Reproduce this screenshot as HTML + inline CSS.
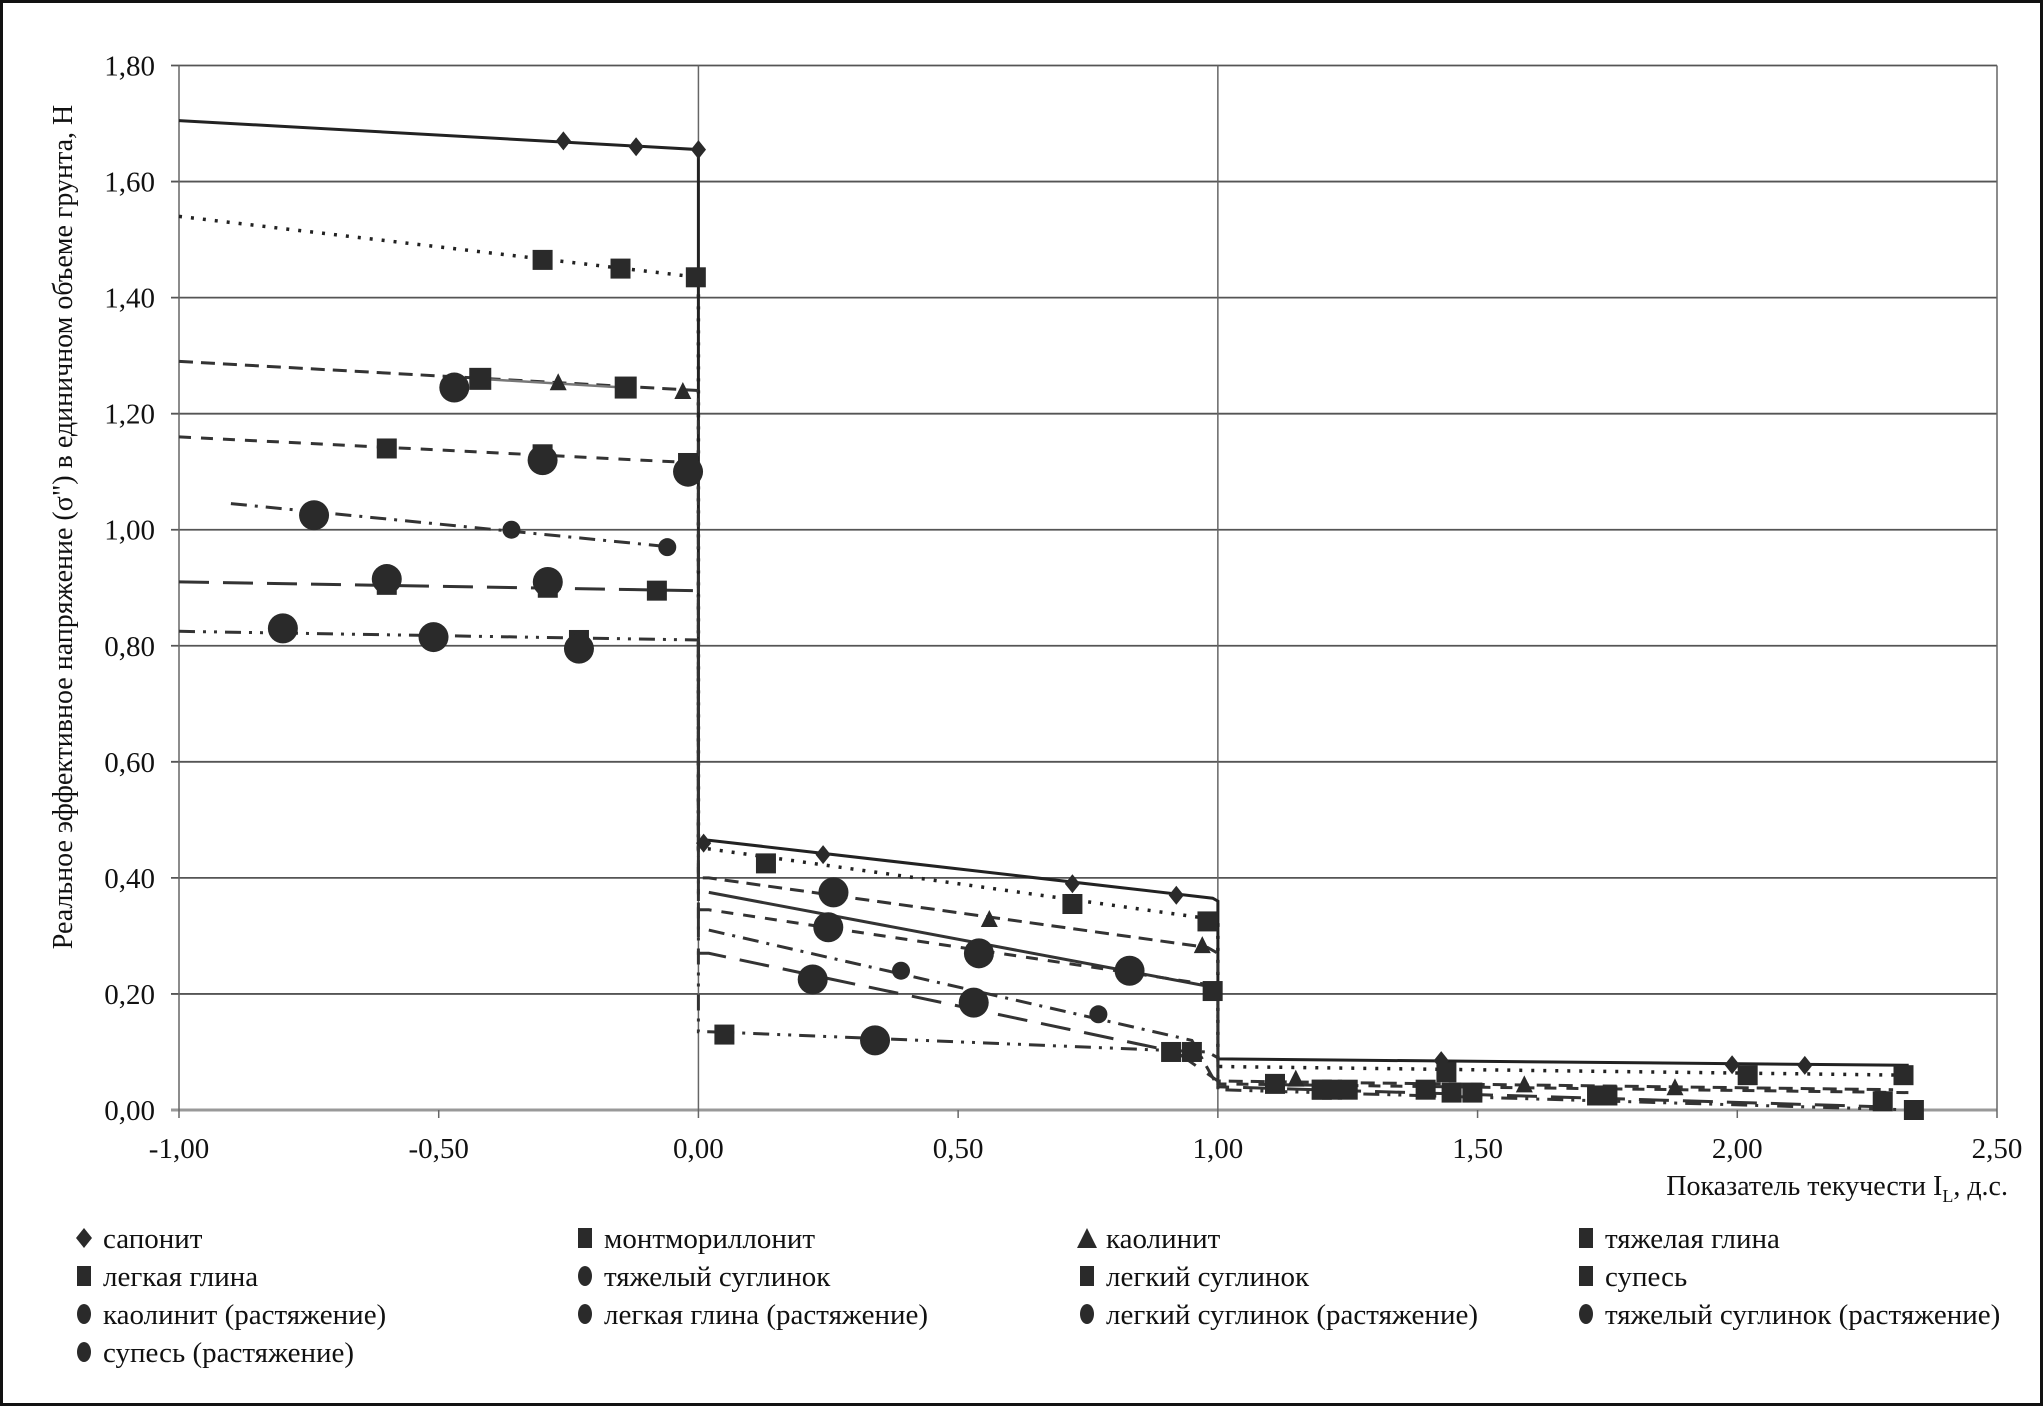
<!DOCTYPE html>
<html><head><meta charset="utf-8">
<style>
html,body{margin:0;padding:0;background:#fff;}
#wrap{position:relative;width:2043px;height:1406px;box-sizing:border-box;border:3px solid #111;overflow:hidden;font-family:"Liberation Serif","DejaVu Serif",serif;color:#111;}
svg{position:absolute;left:0;top:0;}
svg text{font-family:"Liberation Serif","DejaVu Serif",serif;}
</style></head>
<body>
<div id="wrap">
<svg id="chart" width="2043" height="1406" viewBox="0 0 2043 1406"></svg>
</div>
<script>
const xTicks=[-1,-0.5,0,0.5,1,1.5,2,2.5];
const xTickLabels=["-1,00","-0,50","0,00","0,50","1,00","1,50","2,00","2,50"];
const yTicks=[0,0.2,0.4,0.6,0.8,1.0,1.2,1.4,1.6,1.8];
const yTickLabels=["0,00","0,20","0,40","0,60","0,80","1,00","1,20","1,40","1,60","1,80"];
const seriesNames=["сапонит","монтмориллонит","каолинит","тяжелая глина","легкая глина","тяжелый суглинок","легкий суглинок","супесь","каолинит (растяжение)","легкая глина (растяжение)","легкий суглинок (растяжение)","тяжелый суглинок (растяжение)","супесь (растяжение)"];
const seriesMarkers=["diamond","square","triangle","square","square","circle","square","square","circle","circle","circle","circle","circle"];
const lineX=[
 [-1,0,0,0.02,0.99,1.0,1.0,2.33],
 [-1,0,0,0.02,0.98,1.0,1.0,2.33],
 [-1,0,0,0.02,0.98,1.0,1.0,2.3],
 [-0.42,-0.14],
 [-1,0,0,0.02,0.99,1.0,1.0,2.33],
 [-0.9,-0.05],
 [-1,0,0,0.02,0.92,1.0,1.0,2.3],
 [-1,0,0,0.02,0.98,1.0,1.0,2.34],
 [0.02,1.0],
 [0.02,0.95,1.0]
];
const lineY=[
 [1.705,1.655,0.465,0.465,0.365,0.36,0.088,0.077],
 [1.54,1.435,0.45,0.45,0.33,0.32,0.075,0.06],
 [1.29,1.24,0.40,0.40,0.28,0.27,0.05,0.035],
 [1.26,1.245],
 [1.16,1.115,0.345,0.345,0.215,0.205,0.045,0.03],
 [1.045,0.97],
 [0.91,0.895,0.27,0.27,0.10,0.05,0.04,0.005],
 [0.825,0.81,0.135,0.135,0.10,0.09,0.035,0.0],
 [0.375,0.21],
 [0.31,0.12,0.04]
];
const lineDash=["","3 9","14 8","","12 10","16 8 3 8","30 14","16 8 3 8 3 8","","16 8 3 8"];
const lineW=[3,3.5,3,2.5,3,3,3,3,3,3];
const lineColor=["#222","#222","#333","#777","#333","#333","#333","#333","#333","#333"];
const markX=[
 [-0.26,-0.12,0,0.01,0.24,0.72,0.92,1.43,1.99,2.13],
 [-0.3,-0.15,-0.005,0.13,0.72,0.98,1.44,2.02,2.32],
 [-0.27,-0.03,0.56,0.97,1.15,1.59,1.88],
 [-0.42,-0.14],
 [-0.6,-0.3,-0.02,0.99,1.11,1.2,1.25,1.4,1.45,1.49],
 [-0.36,-0.06,0.39,0.77],
 [-0.6,-0.29,-0.08,0.91,0.95,1.22,1.75],
 [-0.23,0.05,1.2,1.73,2.28,2.34],
 [-0.47,0.26,0.54],
 [-0.3,-0.02,0.25,0.83],
 [-0.6,-0.29,0.22,0.53],
 [-0.74,-0.8],
 [-0.51,-0.23,0.34]
];
const markY=[
 [1.67,1.66,1.655,0.46,0.44,0.39,0.37,0.085,0.078,0.077],
 [1.465,1.45,1.435,0.425,0.355,0.325,0.065,0.06,0.06],
 [1.255,1.24,0.33,0.285,0.055,0.045,0.04],
 [1.26,1.245],
 [1.14,1.13,1.115,0.205,0.045,0.035,0.035,0.035,0.03,0.03],
 [1.0,0.97,0.24,0.165],
 [0.905,0.9,0.895,0.1,0.1,0.035,0.025],
 [0.81,0.13,0.035,0.025,0.015,0.0],
 [1.245,0.375,0.27],
 [1.12,1.1,0.315,0.24],
 [0.915,0.91,0.225,0.185],
 [1.025,0.83],
 [0.815,0.795,0.12]
];
const markSize=[19,20,17,22,20,18,20,20,30,30,30,30,30];

const NS="http://www.w3.org/2000/svg";
const svg=document.getElementById("chart");
const X0=176,X1=1994,Y0=1107,Ytop=62.5;
function X(v){return X0+(v+1)/3.5*(X1-X0);}
function Y(v){return Y0-v/1.8*(Y0-Ytop);}
function mk(t,a,parent){const e=document.createElementNS(NS,t);for(const k in a)e.setAttribute(k,a[k]);(parent||svg).appendChild(e);return e;}

yTicks.forEach((v,i)=>{
 const g=mk("line",{x1:X0-8,x2:X1,y1:Y(v),y2:Y(v),stroke:i==0?"#999":"#555","stroke-width":i==0?3:1.8});
 
 
 const t=mk("text",{x:152,y:Y(v)+10,"text-anchor":"end","font-size":29,fill:"#111"});
 t.textContent=yTickLabels[i];
 
 
});
xTicks.forEach((v,i)=>{
 const full=(v==-1||v==0||v==1||v==2.5);
 const l=mk("line",{x1:X(v),x2:X(v),y1:full?Ytop:Y0,y2:Y0+8,stroke:"#666","stroke-width":1.5});
 
 
 const t=mk("text",{x:X(v),y:1155,"text-anchor":"middle","font-size":29,fill:"#111"});
 t.textContent=xTickLabels[i];
 
 
});
const xt=mk("text",{x:2005,y:1192,"text-anchor":"end","font-size":28,fill:"#111"});
xt.innerHTML='Показатель текучести I<tspan font-size="18" dy="7">L</tspan><tspan dy="-7">, д.с.</tspan>';


const yt=mk("text",{x:0,y:0,"text-anchor":"middle","font-size":28,fill:"#111",transform:"translate(69,524) rotate(-90)"});
yt.textContent='Реальное эффективное напряжение (σ") в единичном объеме грунта, Н';



lineX.forEach((xs,i)=>{
 const pts=xs.map((x,j)=>X(x).toFixed(1)+","+Y(lineY[i][j]).toFixed(1)).join(" ");
 const a={points:pts,fill:"none",stroke:lineColor[i],"stroke-width":lineW[i]};
 if(lineDash[i])a["stroke-dasharray"]=lineDash[i];
 const p=mk("polyline",a);
 
 
});
function marker(type,cx,cy,s,parent){
 let e;const h=s/2;
 if(type=="diamond")e=mk("polygon",{points:`${cx},${cy-h} ${cx+h*0.8},${cy} ${cx},${cy+h} ${cx-h*0.8},${cy}`,fill:"#2a2a2a"},parent);
 else if(type=="square")e=mk("rect",{x:cx-h,y:cy-h,width:s,height:s,fill:"#2a2a2a"},parent);
 else if(type=="triangle")e=mk("polygon",{points:`${cx},${cy-h} ${cx+h},${cy+h} ${cx-h},${cy+h}`,fill:"#2a2a2a"},parent);
 else e=mk("circle",{cx:cx,cy:cy,r:h,fill:"#2a2a2a"},parent);
 return e;
}
markX.forEach((xs,i)=>{
 xs.forEach((x,j)=>{
  const m=marker(seriesMarkers[i],X(x),Y(markY[i][j]),markSize[i]);
  
  
 });
});
const colX=[81,582,1084,1583],rowY=[1235,1273,1311,1349];
seriesNames.forEach((n,i)=>{
 const c=i%4,r=Math.floor(i/4);
 const g=mk("g",{});
 
 
 const s=seriesMarkers[i];
 if(s=="circle")mk("ellipse",{cx:colX[c],cy:rowY[r],rx:7,ry:10,fill:"#2a2a2a"},g);
 else if(s=="square")mk("rect",{x:colX[c]-7,y:rowY[r]-10,width:14,height:20,fill:"#2a2a2a"},g);
 else marker(s,colX[c],rowY[r],20,g);
 const t=mk("text",{x:colX[c]+19,y:rowY[r]+10,"font-size":29,fill:"#111"},g);
 t.textContent=n;
});
</script>
</body></html>
